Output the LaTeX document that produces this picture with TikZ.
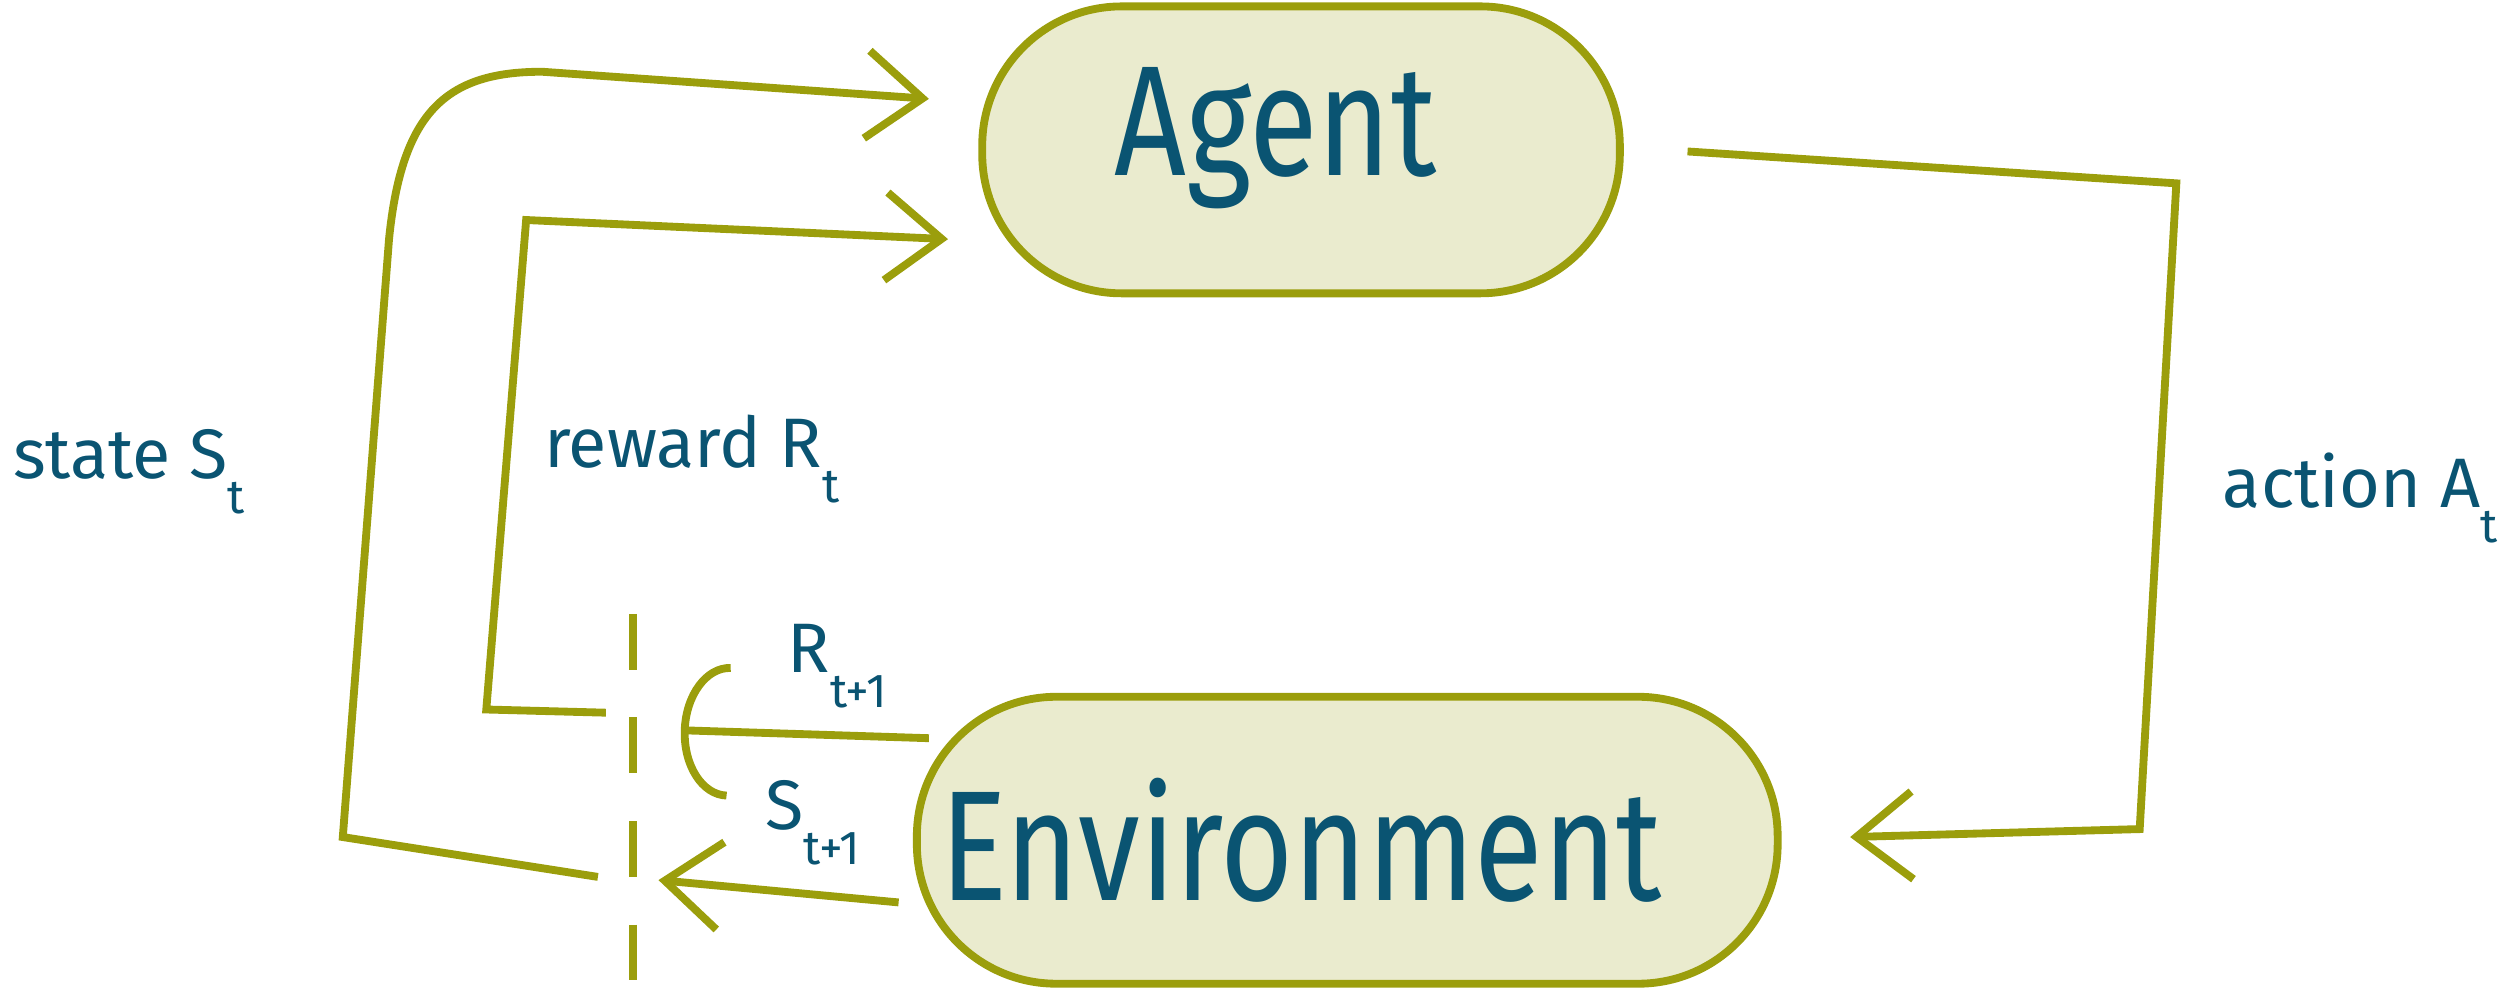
\documentclass[tikz,border=0pt]{standalone}
\usepackage{fontspec}
\setmainfont{Fira Sans}
\newfontfamily\handfont{Fira Sans}[FakeStretch=0.8]
\usetikzlibrary{arrows.meta, positioning, calc}
\definecolor{olivegreen}{RGB}{155,158,12}
\definecolor{inkblue}{RGB}{10,84,114}
\definecolor{cloudfill}{RGB}{234,235,206}
\newcommand{\hsub}[1]{\raisebox{-0.5em}{\fontsize{17}{17}\selectfont #1}}

\begin{document}
\begin{tikzpicture}[x=0.02cm, y=-0.02cm,
		actor/.style={draw=olivegreen, fill=cloudfill, line width=2.8pt,
			rounded corners=1.75cm, minimum height=3.6cm},
		bigname/.style={text=inkblue, font=\handfont\fontsize{56}{56}\selectfont, anchor=base},
		flowlabel/.style={text=inkblue, font=\fontsize{25}{25}\selectfont, anchor=base west},
		flow/.style={draw=olivegreen, line width=2.8pt, -{Straight Barb[length=7mm, width=11mm]}},
		outflow/.style={draw=olivegreen, line width=2.8pt, -{Arc Barb[length=6mm, width=17mm]}},
		timeline/.style={draw=olivegreen, line width=2.8pt, dash pattern=on 0.7cm off 0.6cm}
	]
		\useasboundingbox (0,0) rectangle (1568,621);

		\node[actor, minimum width=8cm] (agent) at (816,94) {};
		\node[actor, minimum width=10.8cm] (env) at (845,527) {};
		\node[bigname] (agenttext) at (800,110) {Agent};
		\node[bigname] (envtext) at (816,565) {Environment};

		% time step boundary
		\coordinate (ttop) at (397,385);
		\coordinate (tbot) at (397,621);
		\draw[timeline] (ttop) -- (tbot);

		% loose ends next to the boundary
		\coordinate (statein) at (375,550);
		\coordinate (rewardin) at (380,447);
		\coordinate (rewardout) at (427,458);
		\coordinate (stateout) at (413,552);

		\draw[flow] ($(agent.east)+(40,1)$) -- (1365,115) -- (1342,520) -- ($(env.east)+(43,-2)$);
		\draw[flow] (statein) -- (215,525) -- (244,150)
			.. controls (252,70) and (280,45) .. (340,45) -- ($(agent.west)+(-31,-32)$);
		\draw[flow] (rewardin) -- (305,445) -- (330,138) -- ($(agent.west)+(-19,56)$);
		\draw[outflow] ($(env.west)+(10,-64)$) -- (rewardout);
		\draw[flow] ($(env.west)+(-9,39)$) -- (stateout);

		\node[flowlabel] (statelbl) at (2,300) {state S\hsub{t}};
		\node[flowlabel] (rewardlbl) at (335,293) {reward R\hsub{t}};
		\node[flowlabel] (actionlbl) at (1388,318) {action A\hsub{t}};
		\node[flowlabel] (nextreward) at (488,422) {R\hsub{t+1}};
		\node[flowlabel] (nextstate) at (474,520) {S\hsub{t+1}};
	\end{tikzpicture}
\end{document}
